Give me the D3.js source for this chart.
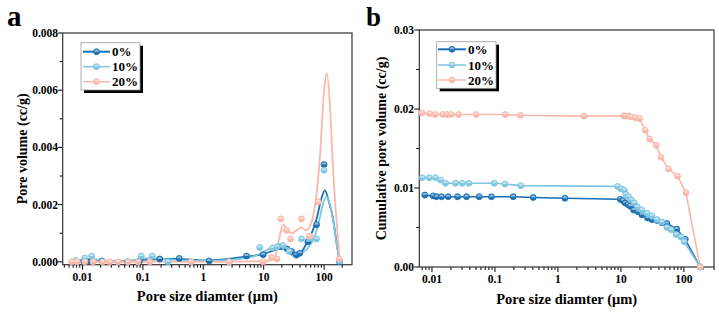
<!DOCTYPE html>
<html><head><meta charset="utf-8">
<script src="https://cdn.jsdelivr.net/npm/d3@7/dist/d3.min.js"></script>
<style>
html,body{margin:0;padding:0;background:#fff;}
</style></head>
<body>
<svg id="c" width="719" height="312" font-family="'Liberation Serif', 'Times New Roman', 'DejaVu Serif', serif" font-weight="bold"></svg>
<script>
// ---------- DATA ----------
const seriesNames = ["0%", "10%", "20%"];
const seriesColors = ["#1b70b3", "#7fc6e0", "#f9b8a9"];
const xTickLabelsA = ["0.01", "0.1", "1", "10", "100"];
const yTickLabelsA = ["0.000", "0.002", "0.004", "0.006", "0.008"];
const yTickLabelsB = ["0.00", "0.01", "0.02", "0.03"];

// Panel a: measured points [diameter µm, pore volume cc/g]
const a0Pts = [[0.0077,0],[0.0105,0],[0.0118,0.00002],[0.0142,0.00001],[0.021,0.00003],[0.056,0],[0.088,0.00002],[0.19,0.0001],[0.40,0.00012],[1.25,0.00003],[5.2,0.0002],[9.8,0.00025],[19.2,0.00053],[24.4,0.00045],[28.9,0.00036],[34.9,0.00024],[39.6,0.0003],[54,0.0007],[75,0.0013],[100,0.0034],[180,0]];
const a10Pts = [[0.0077,0.00005],[0.0109,0.00013],[0.0142,0.0002],[0.094,0.0002],[0.143,0.0002],[0.26,0],[2.7,0],[8.6,0.0005],[14,0.00048],[16.7,0.00053],[20.9,0.00057],[26.4,0.00036],[42.3,0.0008],[58,0.00083],[74.8,0.0008],[100,0.0032],[180,0.00003]];
const a20Pts = [[0.0066,0],[0.0081,0],[0.0109,0],[0.015,0],[0.0214,0],[0.0283,0],[0.0388,0],[0.057,0],[0.083,0],[0.13,0],[0.63,0],[2.67,0],[9.77,0],[13.5,0.00015],[16.7,0.0001],[19.2,0.0015],[23.8,0.0011],[27.8,0.0008],[42.3,0.0015],[58,0.0009],[80,0.0021],[177,0.0001]];

// Panel a: smoothed fit curves
const a0Fit = [[0.006,0.00002],[0.01,0.00003],[0.02,0.00002],[0.05,0.00003],[0.1,0.00007],[0.2,0.0001],[0.4,0.0001],[1,0.00005],[2,0.00008],[5,0.00018],[10,0.00028],[15,0.0004],[20,0.00048],[25,0.00036],[33,0.0002],[40,0.00028],[50,0.0006],[65,0.0011],[75,0.0015],[90,0.0022],[103,0.0025],[120,0.0021],[141,0.0015],[160,0.0007],[182,0]];
const a10Fit = [[0.006,0.00002],[0.01,0.00008],[0.015,0.0001],[0.02,0.00005],[0.05,0.00002],[0.1,0.00012],[0.15,0.00013],[0.2,0.0001],[0.5,0.00005],[1,0.00003],[3,0.00008],[7,0.0002],[10,0.00035],[14,0.0005],[18,0.0005],[22,0.00045],[28,0.0003],[35,0.00015],[42,0.0003],[55,0.0005],[70,0.0009],[80,0.0013],[95,0.002],[110,0.00228],[125,0.002],[145,0.0013],[165,0.0005],[182,0]];
const a20Fit = [[0.006,0],[0.1,0.00001],[1,0],[10,0.00002],[15,0.0001],[18,0.0008],[21,0.0013],[25,0.0011],[29,0.001],[35,0.0011],[42,0.0012],[50,0.0011],[60,0.0013],[70,0.0019],[85,0.0036],[100,0.006],[110,0.0066],[125,0.0055],[138,0.0036],[156,0.0018],[170,0.0008],[182,0]];

// Panel b: cumulative pore volume
const b0 = [[0.0077,0.0091],[0.0105,0.009],[0.0118,0.0089],[0.0142,0.0089],[0.0181,0.0089],[0.0255,0.0089],[0.0354,0.0089],[0.0563,0.0089],[0.088,0.0089],[0.195,0.0089],[0.405,0.0088],[1.29,0.0087],[9.75,0.00857],[10.7,0.0084],[11.7,0.0081],[12.9,0.0079],[14.1,0.0077],[15.9,0.0072],[18.6,0.007],[21.5,0.0066],[26.5,0.0062],[31,0.006],[37.3,0.0059],[44.7,0.0056],[53.7,0.0055],[77,0.0048],[105,0.0035],[181,0]];
const b10 = [[0.007,0.0113],[0.0091,0.0113],[0.0114,0.0113],[0.0137,0.011],[0.0164,0.0106],[0.0237,0.0106],[0.0303,0.0106],[0.0387,0.0106],[0.0975,0.0106],[0.144,0.0105],[0.258,0.0103],[8.83,0.0102],[10,0.0099],[11.3,0.0097],[12,0.0092],[13.2,0.0089],[14.6,0.0085],[16.3,0.0081],[18.3,0.0076],[21.5,0.0072],[25.9,0.0068],[31,0.0065],[37.3,0.006],[44.7,0.0057],[53.7,0.005],[62.9,0.0047],[75.5,0.0041],[89.6,0.0038],[101,0.0032],[181,0]];
const b20 = [[0.0069,0.0195],[0.0092,0.0194],[0.0113,0.0193],[0.0149,0.0193],[0.0173,0.0193],[0.02,0.0193],[0.0264,0.0193],[0.0505,0.0193],[0.146,0.0193],[0.255,0.0192],[2.59,0.0191],[11,0.01915],[12,0.0191],[13.2,0.0191],[14.4,0.019],[16.9,0.0189],[19.7,0.0188],[24.3,0.0173],[28.5,0.0162],[36.3,0.0154],[43.1,0.0139],[57,0.0124],[79,0.0115],[107.6,0.0094],[181,0]];

// ---------- DRAW ----------
const svg = d3.select("#c");
const FONT = "'Liberation Serif', 'Times New Roman', 'DejaVu Serif', serif";
function txt(g) { return g.append("text").attr("font-family", FONT).attr("font-weight", "bold").attr("fill", "#000"); }

function markers(g, data, x, y, color) {
  const m = g.selectAll(null).data(data).enter().append("g")
    .attr("transform", d => `translate(${x(d[0])},${y(d[1])})`);
  m.append("circle").attr("r", 3).attr("fill", color).attr("stroke", color).attr("stroke-width", 0.8);
  m.append("path").attr("d", d3.arc()({innerRadius:0, outerRadius:2.3, startAngle:-Math.PI/2, endAngle:Math.PI/2}))
    .attr("fill", "#fff").attr("opacity", 0.5);
}

function legend(g, x0, y0, w, h, lineX0, lineX1, textX, rowYs) {
  g.append("rect").attr("x", x0+3).attr("y", y0+3).attr("width", w).attr("height", h).attr("fill", "#000");
  g.append("rect").attr("x", x0).attr("y", y0).attr("width", w).attr("height", h).attr("fill", "#fff").attr("stroke", "#999").attr("stroke-width", 0.8);
  seriesNames.forEach((n, i) => {
    const yy = rowYs[i];
    g.append("line").attr("x1", lineX0).attr("x2", lineX1).attr("y1", yy).attr("y2", yy)
      .attr("stroke", seriesColors[i]).attr("stroke-width", i === 0 ? 2 : 1.5);
    markers(g, [[0,0]], () => (lineX0+lineX1)/2, () => yy, seriesColors[i]);
    txt(g).attr("x", textX).attr("y", yy+4.5).attr("font-size", 13).text(n);
  });
}

function frame(g, x, y, L, R, T, B, yMajors, yMinors, yLabels, xLabelY, yLabelX) {
  const xt = x.ticks();
  xt.forEach(t => {
    const lg = Math.log10(t);
    const major = Math.abs(lg - Math.round(lg)) < 1e-6;
    g.append("line").attr("x1", x(t)).attr("x2", x(t)).attr("y1", B).attr("y2", B + (major ? 5 : 3))
      .attr("stroke", "#000").attr("stroke-width", 1);
  });
  xTickLabelsA.forEach(lbl => {
    txt(g).attr("x", x(+lbl)).attr("y", xLabelY).attr("text-anchor", "middle").attr("font-size", 11.5).text(lbl);
  });
  yMajors.forEach((v, i) => {
    g.append("line").attr("x1", L - 5).attr("x2", L).attr("y1", y(v)).attr("y2", y(v)).attr("stroke", "#000");
    txt(g).attr("x", yLabelX).attr("y", y(v) + 4).attr("text-anchor", "end").attr("font-size", 11.5).text(yLabels[i]);
  });
  yMinors.forEach(v => {
    g.append("line").attr("x1", L - 3).attr("x2", L).attr("y1", y(v)).attr("y2", y(v)).attr("stroke", "#000");
  });
  g.append("rect").attr("x", L).attr("y", T).attr("width", R - L).attr("height", B - T)
    .attr("fill", "none").attr("stroke", "#333").attr("stroke-width", 1.2);
}

// ----- Panel a -----
{
  const L = 62.7, R = 352, T = 33, B = 264.7;
  const x = d3.scaleLog().domain([0.0047, 290]).range([L, R]);
  const y = d3.scaleLinear().domain([-0.0001, 0.008]).range([B, T]);
  const g = svg.append("g");
  const yMaj = yTickLabelsA.map(Number);
  const yMin = [0.001, 0.003, 0.005, 0.007];
  frame(g, x, y, L, R, T, B, yMaj, yMin, yTickLabelsA, 281, 58);
  const fits = [a0Fit, a10Fit, a20Fit];
  const pts = [a0Pts, a10Pts, a20Pts];
  const line = d3.line().x(d => x(d[0])).y(d => y(d[1])).curve(d3.curveMonotoneX);
  [0,1,2].forEach(i => {
    g.append("path").attr("d", line(fits[i])).attr("fill", "none").attr("stroke", seriesColors[i]).attr("stroke-width", 1.8);
  });
  [0,1,2].forEach(i => markers(g, pts[i], x, y, seriesColors[i]));
  legend(g, 81, 42.7, 59, 47.3, 83, 110, 112, [51.7, 66.7, 81.7]);
  txt(g).attr("x", 7).attr("y", 26).attr("font-size", 29).text("a");
  txt(g).attr("transform", `translate(27,${(T+B)/2}) rotate(-90)`).attr("text-anchor", "middle").attr("font-size", 14).text("Pore volume (cc/g)");
  txt(g).attr("x", (L+R)/2).attr("y", 301).attr("text-anchor", "middle").attr("font-size", 14.5).text("Pore size diamter (μm)");
}

// ----- Panel b -----
{
  const L = 419.3, R = 714, T = 30, B = 267;
  const x = d3.scaleLog().domain([0.0063, 300]).range([L, R]);
  const y = d3.scaleLinear().domain([0, 0.03]).range([B, T]);
  const g = svg.append("g");
  const yMaj = yTickLabelsB.map(Number);
  const yMin = [0.005, 0.015, 0.025];
  frame(g, x, y, L, R, T, B, yMaj, yMin, yTickLabelsB, 283, 414);
  const ser = [b0, b10, b20];
  const line = d3.line().x(d => x(d[0])).y(d => y(d[1]));
  [0,1,2].forEach(i => {
    g.append("path").attr("d", line(ser[i])).attr("fill", "none").attr("stroke", seriesColors[i]).attr("stroke-width", 1.6);
  });
  [0,1,2].forEach(i => markers(g, ser[i], x, y, seriesColors[i]));
  legend(g, 436.7, 41.7, 59.3, 46.6, 438, 466, 468, [49.3, 65, 80]);
  txt(g).attr("x", 366).attr("y", 26).attr("font-size", 27).text("b");
  txt(g).attr("transform", `translate(386,${(T+B)/2}) rotate(-90)`).attr("text-anchor", "middle").attr("font-size", 14).text("Cumulative pore volume (cc/g)");
  txt(g).attr("x", (L+R)/2).attr("y", 304).attr("text-anchor", "middle").attr("font-size", 14.5).text("Pore size diamter (μm)");
}
</script>
</body></html>
